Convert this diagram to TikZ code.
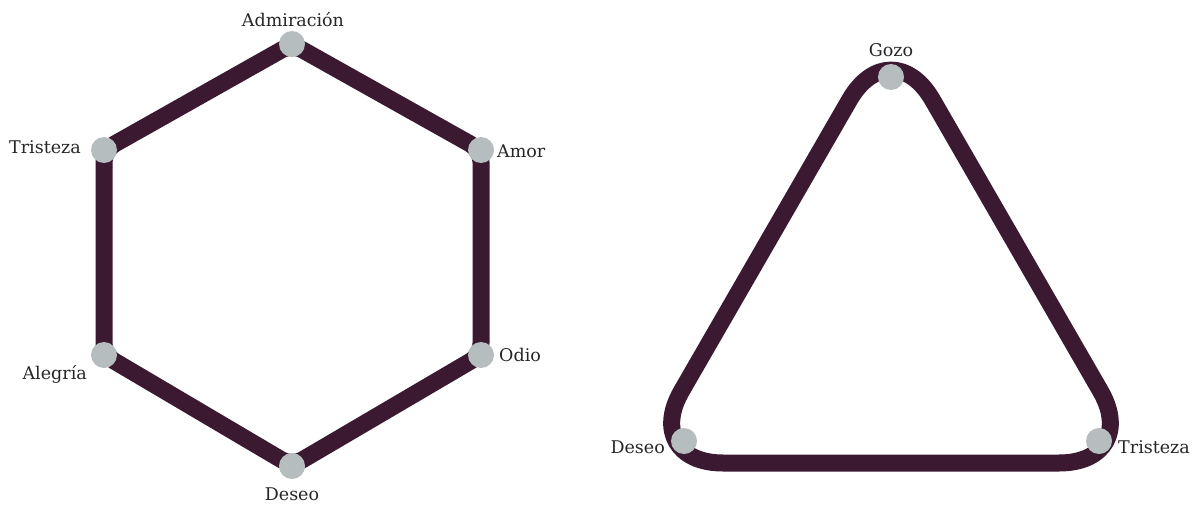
\documentclass[tikz,border=0pt]{standalone}
\usepackage{fontspec}
\setmainfont{DejaVu Serif}
\usetikzlibrary{calc}
\definecolor{edgecol}{HTML}{3B1931}
\definecolor{dotcol}{HTML}{B5BDBE}
\definecolor{txtcol}{HTML}{262626}
\begin{document}
\begin{tikzpicture}[x=1pt,y=-1pt,
  ring/.style={draw=edgecol,line width=17pt,line join=round},
  dotnode/.style={circle,fill=dotcol,minimum size=26pt,inner sep=0pt},
  lbl/.style={font=\fontsize{17.5}{20}\selectfont,text=txtcol,inner sep=0pt}]
\useasboundingbox (0,0) rectangle (1199,506);
% hexagon vertices
\coordinate (hT) at (292,44);
\coordinate (hUR) at (481,150);
\coordinate (hLR) at (481,355);
\coordinate (hB) at (292,466);
\coordinate (hLL) at (104,355);
\coordinate (hUL) at (104,150);
\draw[ring,rounded corners=12pt] ($(hT)!0.5!(hUR)$) -- (hUR) -- (hLR) -- (hB) -- (hLL) -- (hUL) -- (hT) -- cycle;
\node[dotnode] (admiracion) at (hT) {};
\node[dotnode] (amor) at (hUR) {};
\node[dotnode] (odio) at (hLR) {};
\node[dotnode] (deseoA) at (hB) {};
\node[dotnode] (alegria) at (hLL) {};
\node[dotnode] (tristezaA) at (hUL) {};
\node[lbl,anchor=base] at (293,27) {Admiración};
\node[lbl,anchor=base east] at (81,153) {Tristeza};
\node[lbl,anchor=base west] at (497,157) {Amor};
\node[lbl,anchor=base east] at (87,379) {Alegría};
\node[lbl,anchor=base west] at (499,361) {Odio};
\node[lbl,anchor=base] at (292,500) {Deseo};
% triangle
\coordinate (tA) at (891,28);
\coordinate (tB) at (640,463);
\coordinate (tC) at (1142,463);
\draw[ring,rounded corners=83pt] ($(tB)!0.5!(tC)$) -- (tC) -- (tA) -- (tB) -- cycle;
\node[dotnode] (gozo) at (891,77) {};
\node[dotnode] (deseoB) at (684,441) {};
\node[dotnode] (tristezaB) at (1099,441) {};
\node[lbl,anchor=base] at (891,56) {Gozo};
\node[lbl,anchor=base east] at (665,453) {Deseo};
\node[lbl,anchor=base west] at (1118,453) {Tristeza};
\end{tikzpicture}
\end{document}
